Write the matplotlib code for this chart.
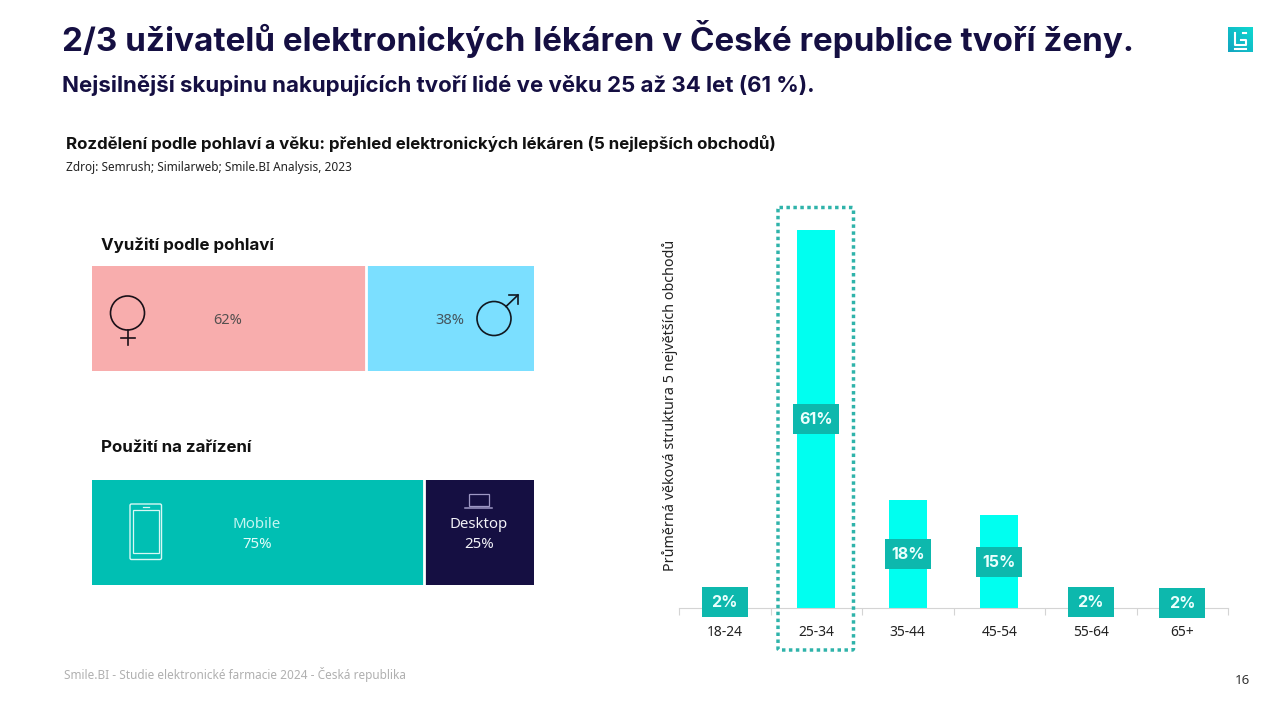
import numpy as np
import matplotlib
matplotlib.use('Agg')
import matplotlib.pyplot as plt
from matplotlib.patches import Rectangle, Circle, FancyBboxPatch

# data
gender_labels = ['62%', '38%']
gender_values = [62, 38]
device_names = ['Mobile', 'Desktop']
device_values = [75, 25]
age_groups = ['18-24', '25-34', '35-44', '45-54', '55-64', '65+']
age_heights = [2, 61, 17.5, 15, 2, 2]
age_labels = ['2%', '61%', '18%', '15%', '2%', '2%']

# layout, pixel rows of the value boxes
age_box_y = [602, 419, 554, 562, 602, 603]

NAVY = '#150f42'
TEAL = '#00bfb3'
CYAN = '#00fff0'
PINK = '#f8adad'
SKY = '#7bdfff'
BOX = '#0db8ad'
HEAD = 'Inter'
BODY = 'Noto Sans'
W, H = 1280, 720


def px_axes(fig, x0, y0, x1, y1):
    # axes from pixel box, y counted from the top
    return fig.add_axes([x0 / W, 1 - y1 / H, (x1 - x0) / W, (y1 - y0) / H])


fig = plt.figure(figsize=(12.8, 7.2), dpi=100, facecolor='white')

# stacked bars on the left, white gap between the two parts
ax_left = px_axes(fig, 92, 266, 534, 585)
ax_left.set_xlim(0, 100)
ax_left.set_ylim(0, 319)
ax_left.axis('off')
ax_left.barh(266.5, gender_values[0], height=105, left=0, color=PINK, edgecolor='none')
ax_left.barh(266.5, gender_values[1], height=105, left=gender_values[0], color=SKY, edgecolor='none')
ax_left.axvline(gender_values[0] - 0.05, ymin=214 / 319, ymax=1, color='white', lw=2)
ax_left.barh(52.5, device_values[0], height=105, left=0, color=TEAL, edgecolor='none')
ax_left.barh(52.5, device_values[1], height=105, left=device_values[0], color=NAVY, edgecolor='none')
ax_left.axvline(device_values[0] + 0.05, ymin=0, ymax=105 / 319, color='white', lw=2)

# age bars on the right
ax_age = px_axes(fig, 679, 200, 1228, 608)
ax_age.set_xlim(-0.5, 5.5)
ax_age.set_ylim(0, 408 / 6.2)
ax_age.bar(range(len(age_groups)), age_heights, width=0.41, color=CYAN)
for s in ['top', 'left', 'right']:
    ax_age.spines[s].set_visible(False)
ax_age.spines['bottom'].set_color('#d4d4d4')
ax_age.set_yticks([])
ax_age.set_xticks(range(len(age_groups)))
ax_age.set_xticklabels(age_groups, fontsize=10, family=BODY, color='#222222')
ax_age.tick_params(axis='x', which='major', length=0, pad=12)
ax_age.set_xticks(np.arange(-0.5, 6), minor=True)
ax_age.tick_params(axis='x', which='minor', length=5, color='#d4d4d4', width=0.8)

# overlay in pixel coordinates for texts and icons
ov = fig.add_axes([0, 0, 1, 1], zorder=5)
ov.set_xlim(0, W)
ov.set_ylim(H, 0)
ov.axis('off')
ov.patch.set_alpha(0)

ov.text(62, 39, '2/3 uživatelů elektronických lékáren v České republice tvoří ženy.',
        fontsize=23.9, fontweight='bold', family=HEAD, color=NAVY, va='center')
ov.text(62, 85, 'Nejsilnější skupinu nakupujících tvoří lidé ve věku 25 až 34 let (61 %).',
        fontsize=16, fontweight='bold', family=HEAD, color=NAVY, va='center')
ov.text(66, 144, 'Rozdělení podle pohlaví a věku: přehled elektronických lékáren (5 nejlepších obchodů)',
        fontsize=12.17, fontweight='bold', family=HEAD, color='#111111', va='center')
ov.text(66, 168, 'Zdroj: Semrush; Similarweb; Smile.BI Analysis, 2023',
        fontsize=8.5, family=BODY, color='#222222', va='center')
ov.text(101, 245, 'Využití podle pohlaví', fontsize=12.2, fontweight='bold', family=HEAD, color='#111111', va='center')
ov.text(101, 447, 'Použití na zařízení', fontsize=12.2, fontweight='bold', family=HEAD, color='#111111', va='center')

ov.text(228, 320, gender_labels[0], fontsize=10.5, family=BODY, color='#555050', ha='center', va='center')
ov.text(450, 320, gender_labels[1], fontsize=10.5, family=BODY, color='#45565e', ha='center', va='center')
ov.text(257, 524, device_names[0], fontsize=10.8, family=BODY, color='#c4f5f1', ha='center', va='center')
ov.text(257, 544, '%d%%' % device_values[0], fontsize=10.8, family=BODY, color='#e0fbf8', ha='center', va='center')
ov.text(479, 524, device_names[1], fontsize=10.8, family=BODY, color='#f2f2f7', ha='center', va='center')
ov.text(479, 544, '%d%%' % device_values[1], fontsize=10.8, family=BODY, color='#f2f2f7', ha='center', va='center')

# female icon
ov.add_patch(Circle((127.5, 313), 17, fill=False, ec='#1a1018', lw=1.2))
ov.plot([127.5, 127.5], [330, 345], color='#1a1018', lw=1.2)
ov.plot([120.5, 134.5], [338, 338], color='#1a1018', lw=1.2)
# male icon
ov.add_patch(Circle((494, 318.5), 17, fill=False, ec='#111820', lw=1.2))
ov.plot([506, 518], [306.5, 295], color='#111820', lw=1.2)
ov.plot([509, 518, 518], [295, 295, 304], color='#111820', lw=1.2)
# phone icon
ov.add_patch(FancyBboxPatch((130, 504), 31.5, 55.5, boxstyle='round,pad=0,rounding_size=1.5',
                            fill=False, ec='#d8f8f5', lw=1))
ov.add_patch(Rectangle((133, 510), 25.5, 43, fill=False, ec='#d8f8f5', lw=0.9))
ov.plot([143, 149], [507, 507], color='#d8f8f5', lw=0.9)
# laptop icon
ov.add_patch(Rectangle((469, 494), 20, 12, fill=False, ec='#9d97c4', lw=0.9))
ov.plot([465, 492], [508, 508], color='#9d97c4', lw=1.1)

# value boxes over the age bars
for i, lab in enumerate(age_labels):
    cx = 679 + (i + 0.5) * 549 / 6
    ov.add_patch(Rectangle((cx - 23, age_box_y[i] - 15), 46, 30, color=BOX, lw=0))
    ov.text(cx, age_box_y[i] + 0.5, lab, fontsize=11.5, fontweight='bold', family=HEAD,
            color='#eafffd', ha='center', va='center')

# dotted highlight around 25-34
ov.add_patch(FancyBboxPatch((778, 207.5), 75.5, 442.5, boxstyle='round,pad=0,rounding_size=1.5',
                            fill=False, ec='#2fb3aa', lw=2.5, ls=(0, (1, 1))))

ov.text(670, 405, 'Průměrná věková struktura 5 největších obchodů', rotation=90,
        fontsize=10.25, family=BODY, color='#222222', ha='center', va='center')
ov.text(64, 674, 'Smile.BI - Studie elektronické farmacie 2024 - Česká republika',
        fontsize=8.5, family=BODY, color='#b0b0b0', va='center')
ov.text(1242, 680, '16', fontsize=9.5, family=BODY, color='#333333', ha='center', va='center')

# logo
grad = np.linspace(0, 1, 32).reshape(1, -1) + np.linspace(1, 0, 32).reshape(-1, 1)
ov.imshow(grad / 2, extent=(1228, 1253, 52, 27), cmap=matplotlib.colors.LinearSegmentedColormap.from_list(
    'logo', ['#12a5c0', '#0fd8d0']), aspect='auto', zorder=1)
ov.set_xlim(0, W)
ov.set_ylim(H, 0)
ov.plot([1235, 1235, 1246, 1246, 1241], [33, 45, 45, 39.5, 39.5], color='white', lw=1.5, zorder=2)
ov.plot([1235, 1246], [49, 49], color='white', lw=1.5, zorder=2)
ov.plot([1243, 1246], [33, 33], color='white', lw=1.5, zorder=2)

fig.savefig('out.png', dpi=100)
